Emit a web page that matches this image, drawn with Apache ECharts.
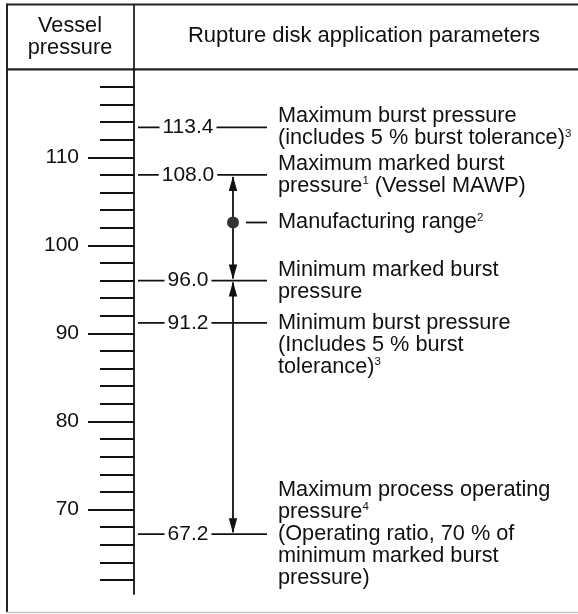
<!DOCTYPE html>
<html><head><meta charset="utf-8">
<script src="https://cdn.jsdelivr.net/npm/echarts@6/dist/echarts.min.js"></script>
<style>html,body{margin:0;padding:0;background:#fff}#c{width:578px;height:614px}</style>
</head><body><div id="c"></div>
<script>
// ---- data ----
const headerLeft = ['Vessel', 'pressure'];
const headerTitle = 'Rupture disk application parameters';
const axisRange = [60.4, 120];
const majorTicks = [70, 80, 90, 100, 110];
const tickLabels = ['70', '80', '90', '100', '110'];
const minorTicks = [62, 64, 66, 68, 72, 74, 76, 78, 82, 84, 86, 88, 92, 94, 96, 98, 102, 104, 106, 108, 112, 114, 116, 118];
const levelValues = [113.4, 108.0, 96.0, 91.2, 67.2];
const levelLabels = ['113.4', '108.0', '96.0', '91.2', '67.2'];
const levelNotes = [
  ['Maximum burst pressure', '(includes 5 % burst tolerance){sup|3}'],
  ['Maximum marked burst', 'pressure{sup|1} (Vessel MAWP)'],
  ['Minimum marked burst', 'pressure'],
  ['Minimum burst pressure', '(Includes 5 % burst', 'tolerance){sup|3}'],
  ['Maximum process operating', 'pressure{sup|4}', '(Operating ratio, 70 % of', 'minimum marked burst', 'pressure)']
];
const rangeArrows = [[108.0, 96.0], [96.0, 67.2]];
const rangeMarkValues = [102.6];
const rangeMarkNotes = ['Manufacturing range{sup|2}'];

// ---- layout / style ----
const noteAnchor = [0.5, 0.5, 0.5, 0, 2];
const FONT = 'Liberation Sans, Arial, sans-serif';
const FS = 21.7, LH = 22, FS_TICK = 21, FS_HEAD = 22;
const INK = '#111';
const LW = 1.8;
const richSup = { sup: { fontSize: 11.5, lineHeight: 11, verticalAlign: 'top', fontFamily: FONT, fill: INK, color: INK } };

const chart = echarts.init(document.getElementById('c'), null, { renderer: 'canvas' });

function noteText(x, top, lines) {
  return {
    type: 'text',
    style: {
      x: x, y: top, text: lines.join('\n'), align: 'left', verticalAlign: 'top',
      fontSize: FS, fontFamily: FONT, fill: INK, lineHeight: LH, rich: richSup
    }
  };
}

const option = {
  animation: false,
  backgroundColor: '#fff',
  grid: { left: 134, right: 0, top: 69.3, bottom: 20 },
  xAxis: { type: 'value', min: 0, max: 1, show: false },
  yAxis: [
    {
      type: 'value', position: 'left', min: axisRange[0], max: axisRange[1],
      axisLine: { show: true, lineStyle: { color: INK, width: LW } },
      axisTick: { show: true, customValues: majorTicks, length: 46, lineStyle: { color: INK, width: LW } },
      axisLabel: {
        show: true, customValues: majorTicks, margin: 55, fontSize: FS_TICK, fontFamily: FONT, color: INK,
        formatter: v => tickLabels[majorTicks.indexOf(v)]
      },
      splitLine: { show: false }
    },
    {
      type: 'value', position: 'left', min: axisRange[0], max: axisRange[1],
      axisLine: { show: false },
      axisTick: { show: true, customValues: minorTicks, length: 34, lineStyle: { color: INK, width: LW } },
      axisLabel: { show: false },
      splitLine: { show: false }
    }
  ],
  graphic: [
    { type: 'line', shape: { x1: 7, y1: 4.5, x2: 578, y2: 4.5 }, style: { stroke: '#222', lineWidth: 2.2 } },
    { type: 'line', shape: { x1: 7, y1: 3.5, x2: 7, y2: 612 }, style: { stroke: '#222', lineWidth: 2 } },
    { type: 'line', shape: { x1: 7, y1: 69.3, x2: 578, y2: 69.3 }, style: { stroke: '#222', lineWidth: 2.2 } },
    { type: 'line', shape: { x1: 134, y1: 4.5, x2: 134, y2: 69.3 }, style: { stroke: '#222', lineWidth: LW } },
    { type: 'line', shape: { x1: 7, y1: 612.5, x2: 578, y2: 612.5 }, style: { stroke: '#c8c8c8', lineWidth: 1.5 } },
    { type: 'text', style: { x: 70, y: 37, text: headerLeft.join('\n'), align: 'center', verticalAlign: 'middle', fontSize: FS, lineHeight: LH, fontFamily: FONT, fill: INK } },
    { type: 'text', style: { x: 364, y: 36, text: headerTitle, align: 'center', verticalAlign: 'middle', fontSize: FS_HEAD, fontFamily: FONT, fill: INK } }
  ],
  series: [
    {
      type: 'custom', name: 'ranges', coordinateSystem: 'cartesian2d', yAxisIndex: 0,
      data: rangeArrows.map(r => [0, r[0], r[1]]),
      encode: { x: 0, y: [1, 2] },
      renderItem: (params, api) => {
        const p1 = api.coord([0, api.value(1)]);
        const p2 = api.coord([0, api.value(2)]);
        const x = p1[0] + 99, y1 = p1[1], y2 = p2[1];
        const hw = 4.2, hl = 16;
        return {
          type: 'group', children: [
            { type: 'line', shape: { x1: x, y1: y1 + 2, x2: x, y2: y2 - 2 }, style: { stroke: INK, lineWidth: LW } },
            { type: 'polygon', shape: { points: [[x, y1 + 1], [x - hw, y1 + hl], [x + hw, y1 + hl]] }, style: { fill: INK } },
            { type: 'polygon', shape: { points: [[x, y2 - 1], [x - hw, y2 - hl], [x + hw, y2 - hl]] }, style: { fill: INK } }
          ]
        };
      }
    },
    {
      type: 'custom', name: 'levels', coordinateSystem: 'cartesian2d', yAxisIndex: 0,
      data: levelValues.map(v => [0, v]),
      renderItem: (params, api) => {
        const i = params.dataIndex;
        const p = api.coord([0, api.value(1)]);
        const x0 = p[0], y = p[1];
        const top = y - (noteAnchor[i] + 0.5) * LH;
        return {
          type: 'group', children: [
            { type: 'line', shape: { x1: x0 + 4, y1: y, x2: x0 + 133, y2: y }, style: { stroke: INK, lineWidth: LW } },
            { type: 'text', z2: 10, style: { x: x0 + 54, y: y, text: levelLabels[i], align: 'center', verticalAlign: 'middle', fontSize: FS_TICK, fontFamily: FONT, fill: INK, backgroundColor: '#fff', padding: [1, 3] } },
            noteText(x0 + 144, top, levelNotes[i])
          ]
        };
      }
    },
    {
      type: 'custom', name: 'manufacturing', coordinateSystem: 'cartesian2d', yAxisIndex: 0,
      data: rangeMarkValues.map(v => [0, v]),
      renderItem: (params, api) => {
        const i = params.dataIndex;
        const p = api.coord([0, api.value(1)]);
        const x0 = p[0], y = p[1];
        return {
          type: 'group', children: [
            { type: 'circle', shape: { cx: x0 + 99, cy: y, r: 6 }, style: { fill: '#333' } },
            { type: 'line', shape: { x1: x0 + 112, y1: y, x2: x0 + 133, y2: y }, style: { stroke: INK, lineWidth: LW } },
            noteText(x0 + 144, y - 0.5 * LH, [rangeMarkNotes[i]])
          ]
        };
      }
    }
  ]
};
chart.setOption(option);
</script></body></html>
